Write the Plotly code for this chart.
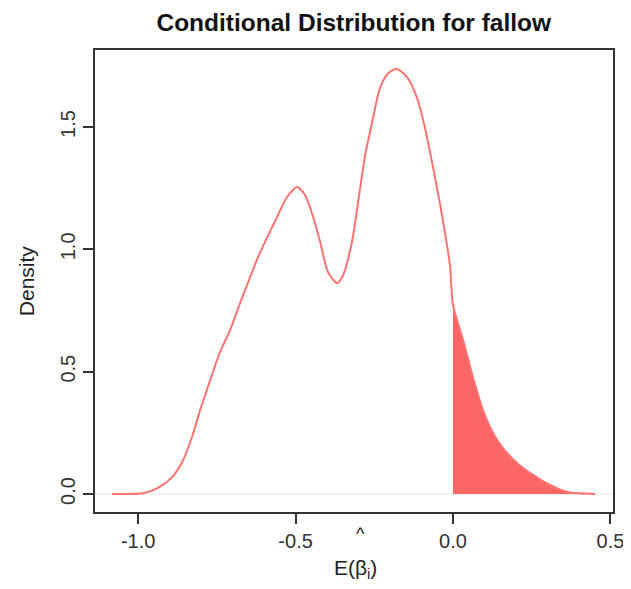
import plotly.graph_objects as go

# Values
beta_vals = [-1.083, -0.984, -0.937, -0.892, -0.857, -0.829, -0.803, -0.771, -0.740,
             -0.708, -0.676, -0.644, -0.619, -0.590, -0.559, -0.527, -0.495, -0.470,
             -0.444, -0.422, -0.397, -0.368, -0.349, -0.321, -0.295, -0.279, -0.257,
             -0.232, -0.206, -0.178, -0.146, -0.114, -0.089, -0.063, -0.035, -0.010,
             0.000, 0.032, 0.063, 0.095, 0.127, 0.156, 0.203, 0.254, 0.308, 0.362, 0.451]
density_vals = [0.000, 0.003, 0.025, 0.069, 0.139, 0.233, 0.343, 0.466, 0.580,
                0.670, 0.781, 0.887, 0.969, 1.050, 1.132, 1.214, 1.255, 1.222,
                1.132, 1.030, 0.907, 0.862, 0.895, 1.030, 1.250, 1.385, 1.520,
                1.659, 1.720, 1.737, 1.704, 1.618, 1.496, 1.332, 1.140, 0.936,
                0.772, 0.629, 0.478, 0.343, 0.249, 0.192, 0.127, 0.078, 0.037, 0.008, 0.000]
threshold = 0.0
x_ticks = [-1.0, -0.5, 0.0, 0.5]
x_tick_labels = ["-1.0", "-0.5", "0.0", "0.5"]
y_ticks = [0.0, 0.5, 1.0, 1.5]
y_tick_labels = ["0.0", "0.5", "1.0", "1.5"]

tail_x = [b for b in beta_vals if b >= threshold]
tail_y = [d for b, d in zip(beta_vals, density_vals) if b >= threshold]

fig = go.Figure()

# faint baseline
fig.add_shape(type="line", xref="paper", x0=0, x1=1, yref="y", y0=0, y1=0,
              line=dict(color="#eeeeee", width=1.5), layer="below")

fig.add_trace(go.Scatter(
    x=[threshold] + tail_x, y=[0] + tail_y, mode="lines",
    fill="toself", fillcolor="#ff6666", line=dict(width=0, color="#ff6666"),
    hoverinfo="skip", showlegend=False))

fig.add_trace(go.Scatter(
    x=beta_vals, y=density_vals, mode="lines",
    line=dict(color="#ff7272", width=2, shape="spline", smoothing=0.7),
    showlegend=False))

font_family = "Liberation Sans, Arial, sans-serif"

fig.update_layout(
    width=631, height=589,
    margin=dict(l=87, r=26, t=42, b=85),
    paper_bgcolor="white", plot_bgcolor="white",
    font=dict(family=font_family, color="#222222", size=20),
    title=dict(text="<b>Conditional Distribution for fallow</b>",
               x=0.548, xanchor="center", xref="container",
               y=0.975, yanchor="middle", yref="container",
               font=dict(size=24.5, color="#111111", family=font_family)),
    xaxis=dict(range=[-1.137, 0.508], tickvals=x_ticks, ticktext=x_tick_labels,
               showgrid=False, zeroline=False, ticks="outside", ticklen=10,
               tickwidth=1.5, tickcolor="#333333", showline=True, mirror=True,
               linecolor="#333333", linewidth=1.5,
               tickfont=dict(size=20, color="#333333")),
    yaxis=dict(range=[-0.0736, 1.815], tickvals=y_ticks, ticktext=y_tick_labels,
               showgrid=False, zeroline=False, ticks="outside", ticklen=10,
               tickwidth=1.5, tickcolor="#333333", showline=True, mirror=True,
               linecolor="#333333", linewidth=1.5, tickangle=-90,
               tickfont=dict(size=20, color="#333333")),
    annotations=[
        dict(text="E(β<sub>i</sub>)", xref="x", yref="paper", x=-0.311, y=0,
             yshift=-57, showarrow=False, xanchor="center", yanchor="middle",
             font=dict(size=21, color="#222222")),
        dict(text="^", xref="x", yref="paper", x=-0.295, y=0, yshift=-22,
             showarrow=False, xanchor="center", yanchor="middle",
             font=dict(size=18, color="#222222")),
        dict(text="Density", xref="paper", yref="y", x=0, y=0.870, xshift=-69,
             textangle=-90, showarrow=False, xanchor="center", yanchor="middle",
             font=dict(size=21, color="#222222")),
    ],
)

fig.write_html("out.html")
